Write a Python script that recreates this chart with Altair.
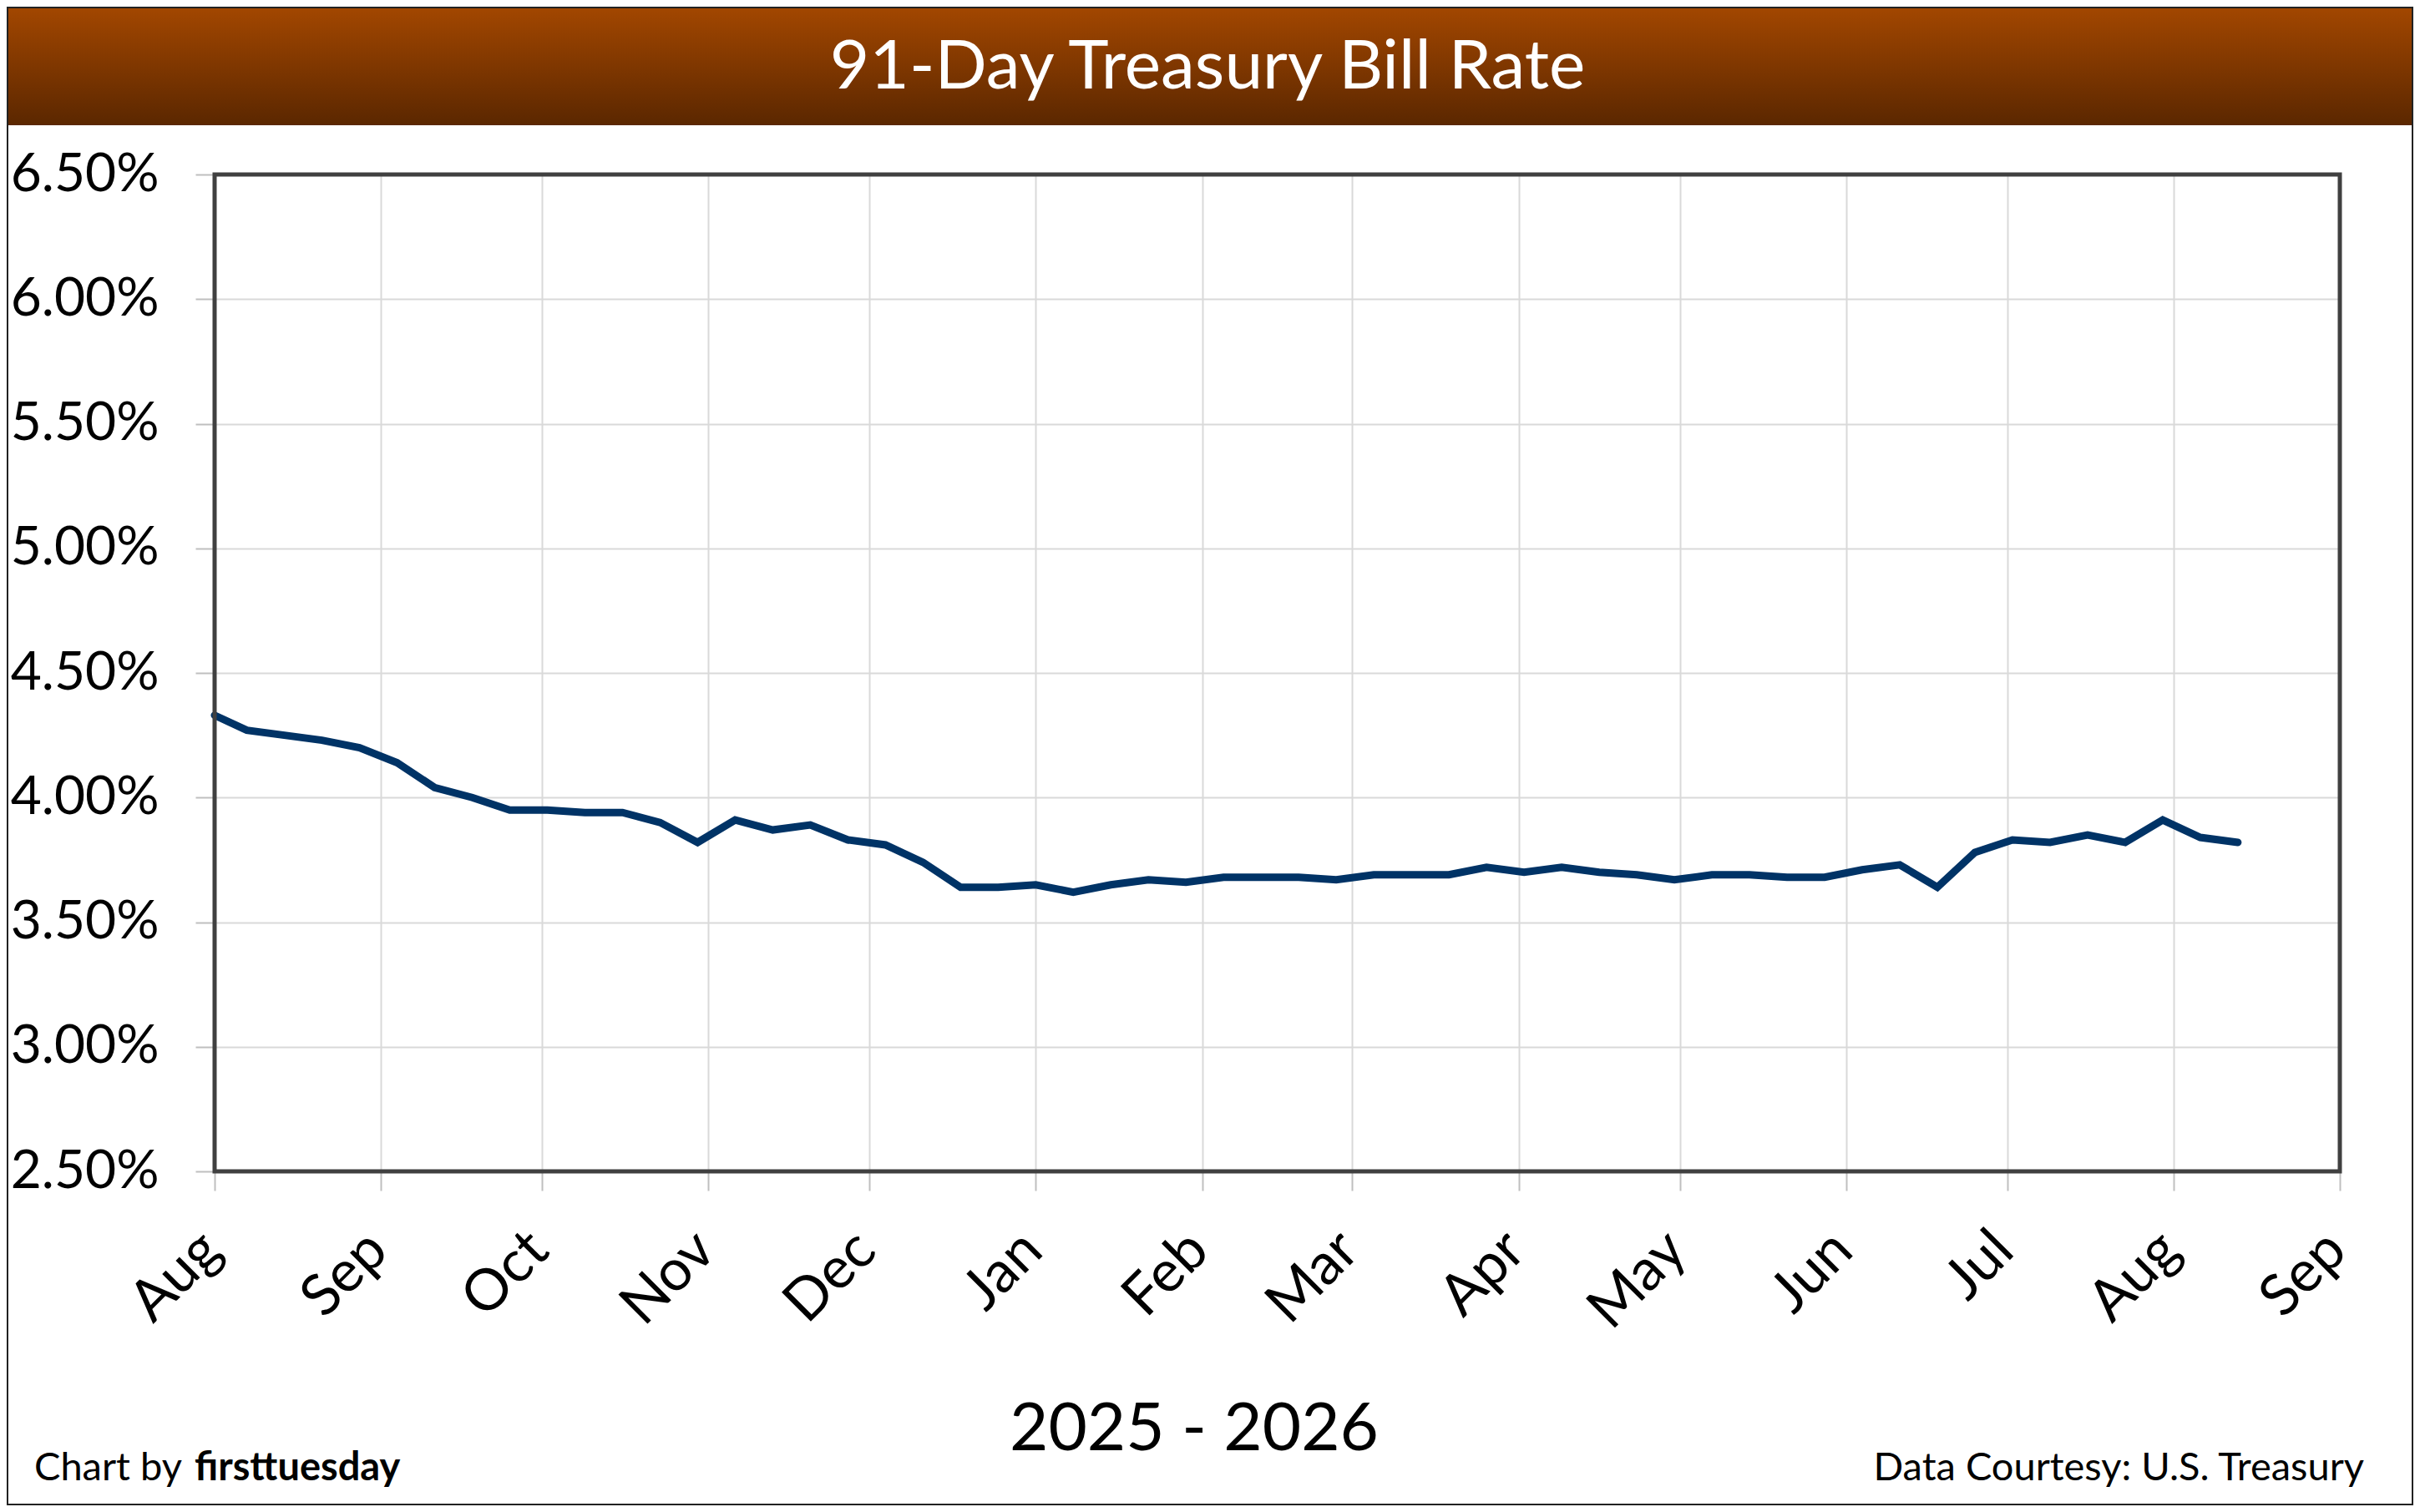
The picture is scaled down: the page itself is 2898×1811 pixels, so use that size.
import altair as alt
import pandas as pd

# ---- data ----
dates = ["2025-08-01", "2025-08-07", "2025-08-14", "2025-08-21", "2025-08-28",
         "2025-09-04", "2025-09-11", "2025-09-18", "2025-09-25",
         "2025-10-02", "2025-10-09", "2025-10-16", "2025-10-23", "2025-10-30",
         "2025-11-06", "2025-11-13", "2025-11-20", "2025-11-27",
         "2025-12-04", "2025-12-11", "2025-12-18", "2025-12-25",
         "2026-01-01", "2026-01-08", "2026-01-15", "2026-01-22", "2026-01-29",
         "2026-02-05", "2026-02-12", "2026-02-19", "2026-02-26",
         "2026-03-05", "2026-03-12", "2026-03-19", "2026-03-26",
         "2026-04-02", "2026-04-09", "2026-04-16", "2026-04-23", "2026-04-30",
         "2026-05-07", "2026-05-14", "2026-05-21", "2026-05-28",
         "2026-06-04", "2026-06-11", "2026-06-18", "2026-06-25",
         "2026-07-02", "2026-07-09", "2026-07-16", "2026-07-23", "2026-07-30",
         "2026-08-06", "2026-08-13"]
rates = [4.33, 4.27, 4.25, 4.23, 4.20,
         4.14, 4.04, 4.00, 3.95,
         3.95, 3.94, 3.94, 3.90, 3.82,
         3.91, 3.87, 3.89, 3.83,
         3.81, 3.74, 3.64, 3.64,
         3.65, 3.62, 3.65, 3.67, 3.66,
         3.68, 3.68, 3.68, 3.67,
         3.69, 3.69, 3.69, 3.72,
         3.70, 3.72, 3.70, 3.69, 3.67,
         3.69, 3.69, 3.68, 3.68,
         3.71, 3.73, 3.64, 3.78,
         3.83, 3.82, 3.85, 3.82, 3.91,
         3.84, 3.82]
y_ticks = [2.5, 3.0, 3.5, 4.0, 4.5, 5.0, 5.5, 6.0, 6.5]
month_ticks = [(2025, 8), (2025, 9), (2025, 10), (2025, 11), (2025, 12),
               (2026, 1), (2026, 2), (2026, 3), (2026, 4), (2026, 5),
               (2026, 6), (2026, 7), (2026, 8), (2026, 9)]
title_text = "91-Day Treasury Bill Rate"
x_title_text = "2025 - 2026"
credit_plain = "Chart by"
credit_bold = "firsttuesday"
source_text = "Data Courtesy: U.S. Treasury"

df = pd.DataFrame({"date": pd.to_datetime(dates), "rate": rates})
one = pd.DataFrame({"k": [0]})

W, H = 2545, 1194
PL, PT, PR, PB = 249, 201, 88, 400
FONT = "Lato"

tick_dt = [alt.DateTime(year=y, month=m, date=1) for y, m in month_ticks]

line = alt.Chart(df).mark_line(
    color="#003366", strokeWidth=9, strokeJoin="miter", strokeCap="round"
).encode(
    x=alt.X("date:T",
            scale=alt.Scale(domain=[tick_dt[0], tick_dt[-1]], nice=False),
            axis=alt.Axis(values=tick_dt, format="%b", labelAngle=-45,
                          labelAlign="right", labelBaseline="middle",
                          labelPadding=60, labelOffset=-4, labelOverlap=False,
                          labelFont=FONT, labelFontSize=69, labelColor="black",
                          tickSize=23, tickColor="#BFBFBF", tickWidth=2,
                          grid=True, gridColor="#D9D9D9", gridWidth=2,
                          domain=False, title=None)),
    y=alt.Y("rate:Q",
            scale=alt.Scale(domain=[2.5, 6.5], nice=False, zero=False),
            axis=alt.Axis(values=y_ticks,
                          labelExpr="format(datum.value, '.2f') + '%'",
                          labelFont=FONT, labelFontSize=64, labelColor="black",
                          labelPadding=44, tickSize=23, tickColor="#BFBFBF",
                          tickWidth=2, grid=True, gridColor="#D9D9D9",
                          gridWidth=2, domain=False, title=None)),
)

frame = alt.Chart(one).mark_rect(
    filled=False, stroke="#404040", strokeWidth=5
).encode(x=alt.value(0), x2=alt.value(W), y=alt.value(0), y2=alt.value(H))

title_bar = alt.Chart(one).mark_rect(
    color=alt.Gradient(
        gradient="linear", x1=0, x2=0, y1=0, y2=1,
        stops=[alt.GradientStop(color="#A34700", offset=0),
               alt.GradientStop(color="#5B2700", offset=1)]),
).encode(x=alt.value(-PL), x2=alt.value(W + PR),
         y=alt.value(-PT), y2=alt.value(-59))

outer = alt.Chart(one).mark_rect(
    filled=False, stroke="#222222", strokeWidth=2
).encode(x=alt.value(-PL + 1), x2=alt.value(W + PR - 1),
         y=alt.value(-PT + 1), y2=alt.value(H + PB - 1))

title = alt.Chart(one).mark_text(
    text=title_text, font=FONT, fontSize=82, color="white",
    align="center", baseline="alphabetic"
).encode(x=alt.value(1189), y=alt.value(-103))

x_title = alt.Chart(one).mark_text(
    text=x_title_text, font=FONT, fontSize=80, color="black",
    align="center", baseline="alphabetic"
).encode(x=alt.value(1173), y=alt.value(1528))

credit1 = alt.Chart(one).mark_text(
    text=credit_plain, font=FONT, fontSize=47, color="black",
    align="left", baseline="alphabetic"
).encode(x=alt.value(-216), y=alt.value(1564))

credit2 = alt.Chart(one).mark_text(
    text=credit_bold, font=FONT, fontSize=47, fontWeight="bold", color="black",
    align="left", baseline="alphabetic"
).encode(x=alt.value(-24), y=alt.value(1564))

source = alt.Chart(one).mark_text(
    text=source_text, font=FONT, fontSize=47, color="black",
    align="right", baseline="alphabetic"
).encode(x=alt.value(2574), y=alt.value(1564))

chart = alt.layer(
    title_bar, outer, line, frame, title, x_title, credit1, credit2, source
).properties(
    width=W, height=H,
    padding={"left": PL, "top": PT, "right": PR, "bottom": PB},
    autosize=alt.AutoSizeParams(type="none"),
    background="white",
).configure_view(
    stroke=None, fill="white"
)

chart.save("out.html", embed_options={"renderer": "svg", "actions": False})
